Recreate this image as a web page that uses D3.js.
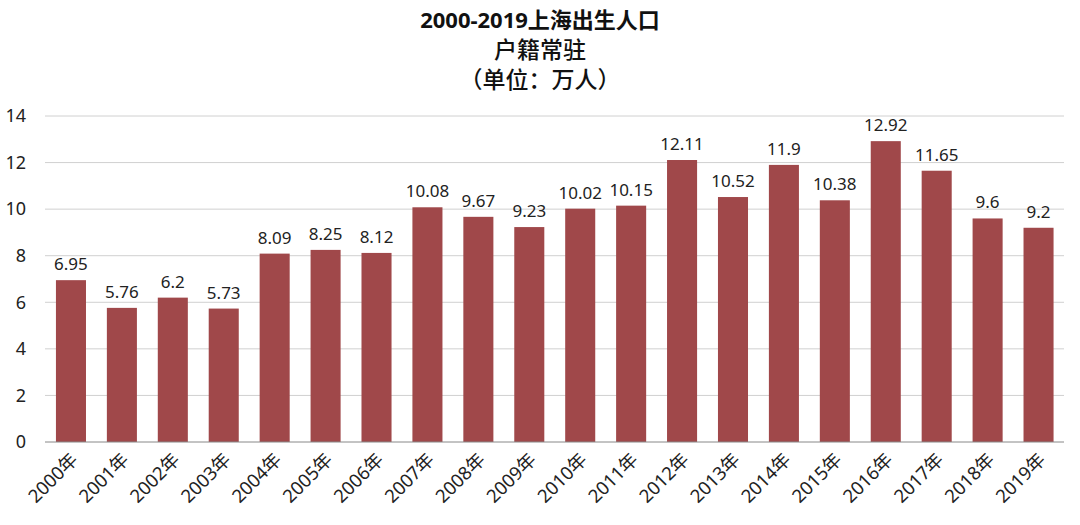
<!DOCTYPE html>
<html><head><meta charset="utf-8">
<script src="https://cdn.jsdelivr.net/npm/d3@7"></script>
<style>body{margin:0;background:#fff}svg{display:block}text{font-family:"Noto Sans","Noto Sans CJK SC",sans-serif}</style>
</head><body>
<svg id="c" width="1080" height="525"></svg>
<script>
const years = ["2000年","2001年","2002年","2003年","2004年","2005年","2006年","2007年","2008年","2009年","2010年","2011年","2012年","2013年","2014年","2015年","2016年","2017年","2018年","2019年"];
const births = [6.95,5.76,6.2,5.73,8.09,8.25,8.12,10.08,9.67,9.23,10.02,10.15,12.11,10.52,11.9,10.38,12.92,11.65,9.6,9.2];
const yTicks = [0,2,4,6,8,10,12,14];
const titleLines = ["2000-2019上海出生人口","户籍常驻","（单位：万人）"];

const svg = d3.select("#c");
const x = d3.scaleBand().domain(years).range([45.5,1064]).paddingInner(0.41).paddingOuter(0.205);
const y = d3.scaleLinear().domain([0,14]).range([442,116]);

svg.append("g").selectAll("line").data(yTicks.slice(1)).join("line")
  .attr("x1",45).attr("x2",1064).attr("y1",d=>y(d)).attr("y2",d=>y(d))
  .attr("stroke","#d0d0d0").attr("stroke-width",1);

const ya = svg.append("g").attr("transform","translate(45,0)")
  .call(d3.axisLeft(y).tickValues(yTicks).tickSize(0).tickPadding(8));
ya.select(".domain").remove();
ya.selectAll("text").attr("font-size",18).attr("fill","#222").attr("x",-19);

svg.append("g").selectAll("rect").data(births).join("rect")
  .attr("x",(d,i)=>x(years[i])).attr("width",x.bandwidth())
  .attr("y",d=>y(d)).attr("height",d=>y(0)-y(d)).attr("fill","#a0484a");

svg.append("line").attr("x1",45).attr("x2",1064).attr("y1",y(0)).attr("y2",y(0)).attr("stroke","#888");

svg.append("g").selectAll("text").data(births).join("text")
  .attr("x",(d,i)=>x(years[i])+x.bandwidth()/2).attr("y",d=>y(d)-10)
  .attr("text-anchor","middle").attr("font-size",17).attr("fill","#222").text(d=>d);

const xa = svg.append("g").attr("transform",`translate(0,${y(0)})`)
  .call(d3.axisBottom(x).tickSize(0).tickPadding(0));
xa.select(".domain").remove();
xa.selectAll("text").attr("font-size",18.5).attr("fill","#222")
  .attr("text-anchor","end").attr("dy",0)
  .attr("transform","translate(8,19) rotate(-45)");

svg.append("g").selectAll("text").data(titleLines).join("text")
  .attr("x",540).attr("y",(d,i)=>[28,58,88][i]).attr("text-anchor","middle")
  .attr("font-size",(d,i)=>i===0?22:23).attr("font-weight",(d,i)=>i===0?"bold":"500").attr("fill","#111").text(d=>d);
</script>
</body></html>
